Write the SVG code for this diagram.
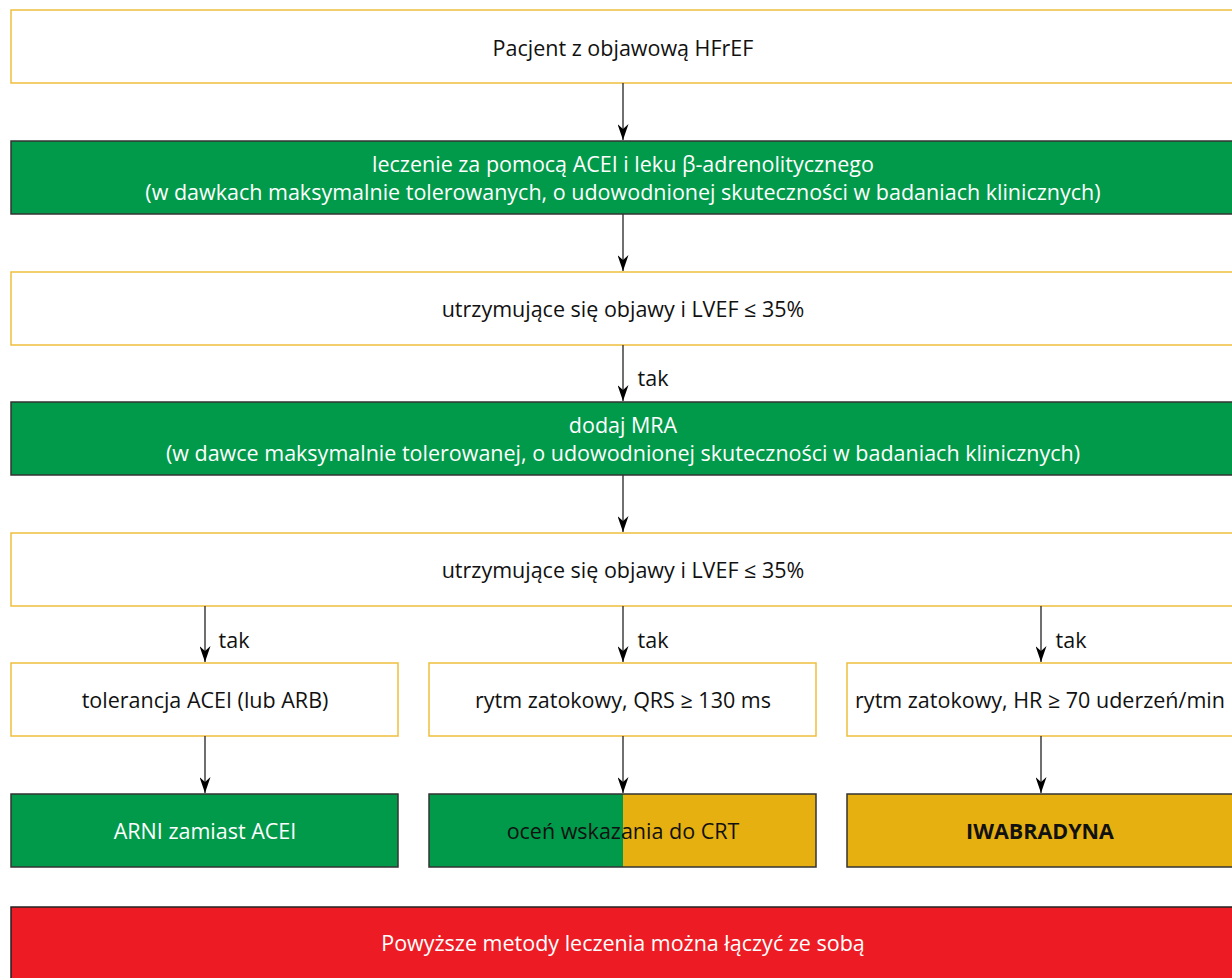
<svg xmlns="http://www.w3.org/2000/svg" width="1232" height="978" viewBox="0 0 1232 978">
<style>
.w{fill:#fff;stroke:#f0be3c;stroke-width:1.5}
.g{fill:#009a4a;stroke:#333;stroke-width:1.5}
.y{fill:#e6b011;stroke:#333;stroke-width:1.5}
.r{fill:#ed1c24;stroke:#222;stroke-width:1.5}
text{font-family:"Open Sans","Noto Sans",sans-serif;font-size:21.5px;text-anchor:middle}
.tw{fill:#fff}
.tk{fill:#111}
.c{stroke:#333;stroke-width:1.4;fill:none}
</style>
<defs>
<marker id="ah" viewBox="0 0 16 11" refX="16" refY="5.5" markerWidth="16" markerHeight="11" markerUnits="userSpaceOnUse" orient="auto">
<path d="M0,0 L16,5.5 L0,11 L5,5.5 Z" fill="#000"/>
</marker>
</defs>
<g id="n1"><rect class="w" x="11" y="10" width="1240" height="73"/><text class="tk" x="623" y="56">Pacjent z objawową HFrEF</text></g>
<g id="n2"><rect class="g" x="11" y="141" width="1240" height="73"/><text class="tw" x="623" y="172">leczenie za pomocą ACEI i leku β-adrenolitycznego</text><text class="tw" x="623" y="200">(w dawkach maksymalnie tolerowanych, o udowodnionej skuteczności w badaniach klinicznych)</text></g>
<g id="n3"><rect class="w" x="11" y="272" width="1240" height="73"/><text class="tk" x="623" y="317">utrzymujące się objawy i LVEF ≤ 35%</text></g>
<g id="n4"><rect class="g" x="11" y="402" width="1240" height="73"/><text class="tw" x="623" y="433">dodaj MRA</text><text class="tw" x="623" y="461">(w dawce maksymalnie tolerowanej, o udowodnionej skuteczności w badaniach klinicznych)</text></g>
<g id="n5"><rect class="w" x="11" y="533" width="1240" height="73"/><text class="tk" x="623" y="578">utrzymujące się objawy i LVEF ≤ 35%</text></g>
<g id="n6"><rect class="w" x="11" y="663" width="387" height="73"/><text class="tk" x="205" y="708">tolerancja ACEI (lub ARB)</text></g>
<g id="n7"><rect class="w" x="429" y="663" width="387" height="73"/><text class="tk" x="623" y="708">rytm zatokowy, QRS ≥ 130 ms</text></g>
<g id="n8"><rect class="w" x="847" y="663" width="400" height="73"/><text class="tk" x="1040" y="708">rytm zatokowy, HR ≥ 70 uderzeń/min</text></g>
<g id="n9"><rect class="g" x="11" y="794" width="387" height="73"/><text class="tw" x="205" y="839">ARNI zamiast ACEI</text></g>
<g id="n10"><rect x="429" y="794" width="194" height="73" fill="#009a4a"/><rect x="623" y="794" width="193" height="73" fill="#e6b011"/><rect x="429" y="794" width="387" height="73" fill="none" stroke="#333" stroke-width="1.5"/><text class="tk" x="623" y="839">oceń wskazania do CRT</text></g>
<g id="n11"><rect class="y" x="847" y="794" width="400" height="73"/><text class="tk" x="1040" y="839" font-weight="bold">IWABRADYNA</text></g>
<g id="n12"><rect class="r" x="11" y="907" width="1240" height="90"/><text class="tw" x="623" y="951">Powyższe metody leczenia można łączyć ze sobą</text></g>
<g id="connectors">
<line class="c" x1="623" y1="83" x2="623" y2="140" marker-end="url(#ah)"/>
<line class="c" x1="623" y1="214" x2="623" y2="271" marker-end="url(#ah)"/>
<line class="c" x1="623" y1="345" x2="623" y2="401" marker-end="url(#ah)"/>
<line class="c" x1="623" y1="475" x2="623" y2="532" marker-end="url(#ah)"/>
<line class="c" x1="205" y1="606" x2="205" y2="662" marker-end="url(#ah)"/>
<line class="c" x1="623" y1="606" x2="623" y2="662" marker-end="url(#ah)"/>
<line class="c" x1="1041" y1="606" x2="1041" y2="662" marker-end="url(#ah)"/>
<line class="c" x1="205" y1="736" x2="205" y2="793" marker-end="url(#ah)"/>
<line class="c" x1="623" y1="736" x2="623" y2="793" marker-end="url(#ah)"/>
<line class="c" x1="1041" y1="736" x2="1041" y2="793" marker-end="url(#ah)"/>
<text class="tk" x="653" y="386">tak</text>
<text class="tk" x="234" y="648">tak</text>
<text class="tk" x="653" y="648">tak</text>
<text class="tk" x="1071" y="648">tak</text>
</g>
</svg>
